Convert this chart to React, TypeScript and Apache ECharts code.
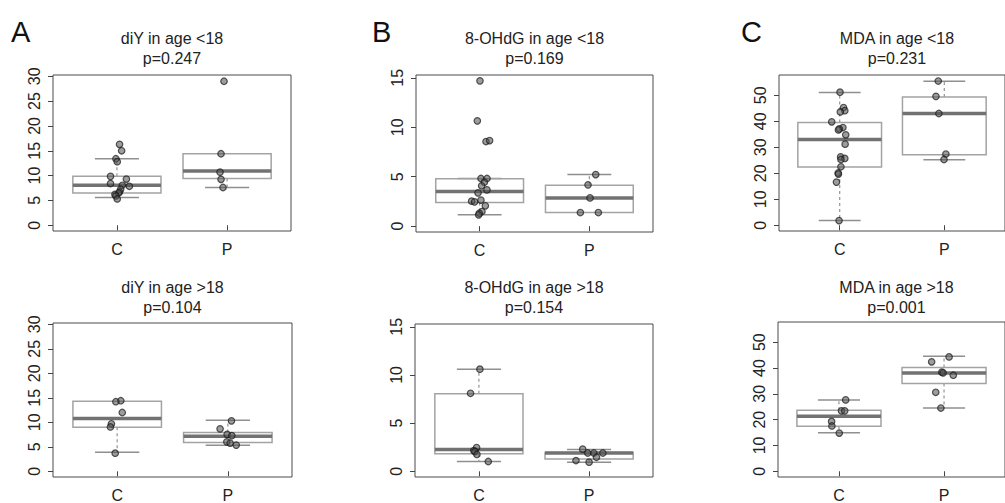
import React, { useEffect, useRef } from "react";
import * as echarts from "echarts";

// ---------- data ----------
const groupNames = ["C", "P"];
const ticksDiY = [0, 5, 10, 15, 20, 25, 30];
const ticksOHdG = [0, 5, 10, 15];
const ticksMDA = [0, 10, 20, 30, 40, 50];

const titles = [
  "diY in age <18",
  "8-OHdG in age <18",
  "MDA in age <18",
  "diY in age >18",
  "8-OHdG in age >18",
  "MDA in age >18",
];
const pValues = ["p=0.247", "p=0.169", "p=0.231", "p=0.104", "p=0.154", "p=0.001"];
const panelLetters = ["A", "B", "C"];

// box stats: [lower whisker, Q1, median, Q3, upper whisker] for C and P
const diyYoungBox = [
  [5.6, 6.5, 8.05, 9.85, 13.4],
  [7.6, 9.4, 10.9, 14.4, 14.4],
];
const ohdgYoungBox = [
  [1.15, 2.39, 3.5, 4.79, 4.82],
  [1.38, 1.38, 2.86, 4.15, 5.22],
];
const mdaYoungBox = [
  [1.8, 22.4, 33.0, 39.5, 51.1],
  [25.2, 27.1, 43.0, 49.4, 55.4],
];
const diyOldBox = [
  [3.9, 9.0, 10.8, 14.3, 14.3],
  [5.3, 5.88, 7.14, 7.93, 10.4],
];
const ohdgOldBox = [
  [1.02, 1.83, 2.27, 8.06, 10.6],
  [0.93, 1.29, 1.9, 1.96, 2.27],
];
const mdaOldBox = [
  [14.9, 17.4, 21.3, 23.6, 27.65],
  [24.5, 34.0, 38.1, 40.2, 44.6],
];

// individual observations (value) and their horizontal jitter
const diyYoungC = [16.3, 15.0, 13.4, 12.8, 9.85, 9.3, 8.4, 8.05, 7.85, 7.25, 6.7, 6.5, 6.2, 5.9, 5.3];
const diyYoungCJit = [0.024, 0.043, -0.009, 0.003, -0.058, 0.086, -0.058, 0.049, 0.113, 0.034, 0.024, 0.015, -0.018, -0.009, 0.003];
const diyYoungP = [29.0, 14.4, 10.7, 9.25, 7.6];
const diyYoungPJit = [-0.028, -0.055, -0.064, -0.055, -0.037];

const ohdgYoungC = [14.7, 10.65, 8.56, 8.66, 4.82, 4.82, 4.45, 4.08, 3.67, 3.37, 2.53, 2.46, 2.63, 2.06, 1.48, 1.31, 1.15];
const ohdgYoungCJit = [0.003, -0.021, 0.058, 0.091, 0.012, 0.067, 0.043, 0.018, 0.067, -0.015, -0.073, -0.046, 0.012, 0.052, 0.021, -0.003, -0.009];
const ohdgYoungP = [5.22, 4.18, 2.86, 1.38, 1.38];
const ohdgYoungPJit = [0.058, -0.012, 0.006, -0.082, 0.082];

const mdaYoungC = [51.2, 45.3, 44.1, 43.6, 39.8, 37.6, 37.1, 36.7, 34.8, 31.2, 26.3, 25.7, 25.3, 22.5, 20.1, 19.7, 16.6, 1.8];
const mdaYoungCJit = [0.003, 0.037, 0.049, 0.006, -0.076, 0.031, -0.003, -0.012, 0.058, 0.052, 0.009, 0.049, 0.012, 0.012, -0.015, -0.012, -0.031, -0.006];
const mdaYoungP = [55.5, 49.6, 43.0, 27.4, 25.3];
const mdaYoungPJit = [-0.058, -0.08, -0.052, 0.015, -0.003];

const diyOldC = [14.4, 14.2, 12.0, 9.7, 9.05, 3.7];
const diyOldCJit = [0.033, -0.012, 0.046, -0.052, -0.061, -0.018];
const diyOldP = [10.3, 8.66, 7.53, 7.27, 6.01, 5.75, 5.35];
const diyOldPJit = [0.033, -0.07, -0.006, 0.036, -0.009, 0.021, 0.076];

const ohdgOldC = [10.6, 8.1, 2.47, 2.15, 2.05, 1.75, 1.02];
const ohdgOldCJit = [0.009, -0.076, -0.021, -0.046, -0.036, -0.018, 0.085];
const ohdgOldP = [2.3, 1.9, 1.9, 1.9, 1.46, 1.12, 0.95];
const ohdgOldPJit = [-0.058, -0.012, 0.043, 0.125, 0.067, -0.119, 0.0];

const mdaOldC = [27.65, 23.4, 23.4, 19.3, 17.55, 14.8];
const mdaOldCJit = [0.064, 0.024, 0.055, -0.07, -0.067, 0.003];
const mdaOldP = [44.3, 42.4, 38.4, 38.1, 37.2, 30.6, 24.5];
const mdaOldPJit = [0.048, -0.118, -0.021, -0.009, 0.088, -0.079, -0.03];

// y ranges (R-style 4% padding around 0..max)
const rangeDiY = [-1.16, 30.26];
const rangeOHdG = [-0.59, 15.29];
const rangeMDA = [-2.22, 57.82];

// ---------- layout / style ----------
const FONT = '"Liberation Sans", Arial, Helvetica, sans-serif';
const BOX_HALF = 0.4;
const STAPLE_HALF = 0.2;
const X_RANGE = [0.42, 2.58];

const grids = [
  { left: 53, top: 75, width: 238, height: 156 },
  { left: 416, top: 75, width: 237, height: 157 },
  { left: 779, top: 75, width: 236, height: 156 },
  { left: 53, top: 323, width: 239, height: 159 },
  { left: 415, top: 324, width: 238, height: 158 },
  { left: 778, top: 322, width: 237, height: 160 },
];

const panels = [
  { box: diyYoungBox, c: diyYoungC, cj: diyYoungCJit, p: diyYoungP, pj: diyYoungPJit, range: rangeDiY, ticks: ticksDiY },
  { box: ohdgYoungBox, c: ohdgYoungC, cj: ohdgYoungCJit, p: ohdgYoungP, pj: ohdgYoungPJit, range: rangeOHdG, ticks: ticksOHdG },
  { box: mdaYoungBox, c: mdaYoungC, cj: mdaYoungCJit, p: mdaYoungP, pj: mdaYoungPJit, range: rangeMDA, ticks: ticksMDA },
  { box: diyOldBox, c: diyOldC, cj: diyOldCJit, p: diyOldP, pj: diyOldPJit, range: rangeDiY, ticks: ticksDiY },
  { box: ohdgOldBox, c: ohdgOldC, cj: ohdgOldCJit, p: ohdgOldP, pj: ohdgOldPJit, range: rangeOHdG, ticks: ticksOHdG },
  { box: mdaOldBox, c: mdaOldC, cj: mdaOldCJit, p: mdaOldP, pj: mdaOldPJit, range: rangeMDA, ticks: ticksMDA },
];

function renderBox(params: any, api: any) {
  const x = api.value(0);
  const lo = api.value(1);
  const q1 = api.value(2);
  const med = api.value(3);
  const q3 = api.value(4);
  const hi = api.value(5);
  const pt = (a: number, b: number) => api.coord([a, b]);
  const children: any[] = [];
  const whiskerStyle = { stroke: "#9c9c9c", lineWidth: 1.3, lineDash: [3, 3], fill: null };
  const stapleStyle = { stroke: "#8f8f8f", lineWidth: 1.5, fill: null };
  const seg = (a: number[], b: number[], style: any) => ({
    type: "line",
    shape: { x1: a[0], y1: a[1], x2: b[0], y2: b[1] },
    style,
  });
  if (hi > q3) {
    children.push(seg(pt(x, q3), pt(x, hi), whiskerStyle));
    children.push(seg(pt(x - STAPLE_HALF, hi), pt(x + STAPLE_HALF, hi), stapleStyle));
  }
  if (lo < q1) {
    children.push(seg(pt(x, q1), pt(x, lo), whiskerStyle));
    children.push(seg(pt(x - STAPLE_HALF, lo), pt(x + STAPLE_HALF, lo), stapleStyle));
  }
  const tl = pt(x - BOX_HALF, q3);
  const br = pt(x + BOX_HALF, q1);
  children.push({
    type: "rect",
    shape: { x: tl[0], y: tl[1], width: br[0] - tl[0], height: br[1] - tl[1] },
    style: { fill: null, stroke: "#a3a3a3", lineWidth: 1.5 },
  });
  children.push(seg(pt(x - BOX_HALF, med), pt(x + BOX_HALF, med), { stroke: "#727272", lineWidth: 3.5 }));
  return { type: "group", children };
}

export default function App() {
  const ref = useRef<HTMLDivElement>(null);

  useEffect(() => {
    if (!ref.current) return;
    const chart = echarts.init(ref.current, undefined, { renderer: "svg" });

    const xAxis: any[] = [];
    const yAxis: any[] = [];
    const series: any[] = [];
    const graphic: any[] = [];

    panels.forEach((pn, i) => {
      xAxis.push({
        gridIndex: i,
        type: "value",
        min: X_RANGE[0],
        max: X_RANGE[1],
        axisLine: { show: false },
        splitLine: { show: false },
        axisTick: { show: true, length: 5, lineStyle: { color: "#444", width: 1 }, customValues: [1, 2] },
        axisLabel: {
          customValues: [1, 2],
          formatter: (v: number) => groupNames[Math.round(v) - 1] || "",
          fontSize: 16,
          fontFamily: FONT,
          color: "#222",
          margin: 10,
        },
      });
      yAxis.push({
        gridIndex: i,
        type: "value",
        min: pn.range[0],
        max: pn.range[1],
        axisLine: { show: false },
        splitLine: { show: false },
        axisTick: { show: true, length: 5, lineStyle: { color: "#444", width: 1 }, customValues: pn.ticks },
        axisLabel: {
          customValues: pn.ticks,
          rotate: 90,
          fontSize: 16,
          fontFamily: FONT,
          color: "#222",
          margin: 11,
        },
      });
      series.push({
        type: "custom",
        xAxisIndex: i,
        yAxisIndex: i,
        renderItem: renderBox,
        encode: { x: 0, y: [1, 2, 3, 4, 5] },
        data: pn.box.map((b, k) => [k + 1, ...b]),
        silent: true,
        z: 2,
      });
      series.push({
        type: "scatter",
        xAxisIndex: i,
        yAxisIndex: i,
        symbol: "circle",
        symbolSize: 6.5,
        itemStyle: { color: "rgba(80,80,80,0.7)", borderColor: "rgba(25,25,25,0.9)", borderWidth: 1.2 },
        data: [
          ...pn.c.map((v, k) => [1 + pn.cj[k], v]),
          ...pn.p.map((v, k) => [2 + pn.pj[k], v]),
        ],
        silent: true,
        z: 3,
      });
      const g = grids[i];
      const cx = g.left + g.width / 2;
      const y1 = i < 3 ? 38 : 287;
      graphic.push({
        type: "text",
        x: cx,
        y: y1,
        style: { text: titles[i], fontSize: 16, fontFamily: FONT, fill: "#222", align: "center", verticalAlign: "middle", textAlign: "center", textVerticalAlign: "middle" },
      });
      graphic.push({
        type: "text",
        x: cx,
        y: y1 + 20,
        style: { text: pValues[i], fontSize: 16, fontFamily: FONT, fill: "#222", align: "center", verticalAlign: "middle", textAlign: "center", textVerticalAlign: "middle" },
      });
    });

    const letterX = [11, 372, 741];
    panelLetters.forEach((l, k) => {
      graphic.push({
        type: "text",
        x: letterX[k],
        y: 32,
        style: { text: l, fontSize: 29, fontFamily: FONT, fill: "#111", align: "left", verticalAlign: "middle", textAlign: "left", textVerticalAlign: "middle" },
      });
    });

    chart.setOption({
      animation: false,
      backgroundColor: "#ffffff",
      grid: grids.map((g) => ({ ...g, show: true, borderColor: "#4a4a4a", borderWidth: 1, backgroundColor: "transparent" })),
      xAxis,
      yAxis,
      series,
      graphic,
    });

    return () => chart.dispose();
  }, []);

  return (
    <div
      ref={ref}
      style={{ position: "fixed", left: 0, top: 0, width: 1005, height: 503, background: "#fff" }}
    />
  );
}
